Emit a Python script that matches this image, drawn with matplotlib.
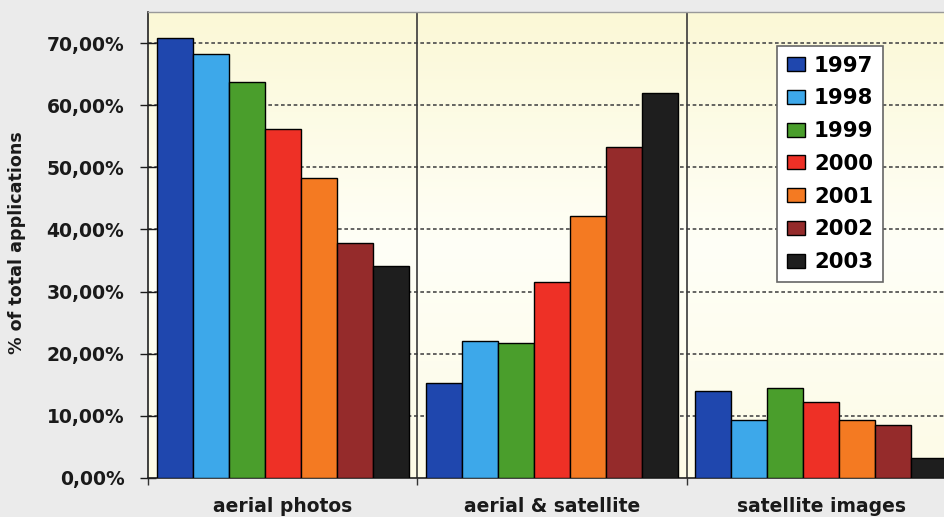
import numpy as np
import matplotlib
matplotlib.use("Agg")
import matplotlib.pyplot as plt
from matplotlib.colors import LinearSegmentedColormap

# share of applications per data source, one list per year
categories = ["aerial photos", "aerial & satellite", "satellite images"]
years = ["1997", "1998", "1999", "2000", "2001", "2002", "2003"]
aerial_photos = [70.8, 68.2, 63.8, 56.1, 48.3, 37.9, 34.2]
aerial_satellite = [15.3, 22.1, 21.7, 31.5, 42.2, 53.3, 62.0]
satellite_images = [14.0, 9.4, 14.5, 12.3, 9.3, 8.6, 3.2]
yticks = [0, 10, 20, 30, 40, 50, 60, 70]

colors = ["#1f47ae", "#3da8ea", "#4a9e2c", "#ee3026", "#f47a22", "#952b2b", "#1e1e1e"]

values = np.array([aerial_photos, aerial_satellite, satellite_images])  # shape (3, 7)

fig = plt.figure(figsize=(9.45, 5.17), dpi=100)
fig.patch.set_facecolor("#ebebeb")
ax = fig.add_axes([148 / 945, 39 / 517, 808 / 945, 466 / 517])

# pale cream backdrop with a faint vertical shading
bg = LinearSegmentedColormap.from_list("bg", ["#fdfbe6", "#fffff7", "#fbf8d6"])
ax.imshow(np.linspace(0, 1, 256).reshape(-1, 1), cmap=bg, aspect="auto",
          extent=[0, 1, 0, 1], transform=ax.transAxes, origin="lower", zorder=0)

ax.set_xlim(-0.5, 2.5)
ax.set_ylim(0, 75)

x = np.arange(len(categories))
w = 0.1337
for i, year in enumerate(years):
    ax.bar(x + (i - 3) * w, values[:, i], width=w, color=colors[i],
           edgecolor="black", linewidth=1.0, label=year, zorder=3)

# dashed horizontal grid and solid group separators
for v in yticks[1:]:
    ax.axhline(v, color="#4a4a4a", linewidth=1.2, linestyle=(0, (2.2, 1.6)), zorder=1)
for b in [0.5, 1.5]:
    ax.axvline(b, color="#3a3a3a", linewidth=1.2, zorder=1)

ax.set_yticks(yticks)
ax.set_yticklabels([f"{v:.2f}%".replace(".", ",") for v in yticks])
ax.tick_params(axis="y", direction="inout", length=12, width=1, pad=11,
               labelsize=13.5, colors="#1a1a1a")
for lab in ax.get_yticklabels():
    lab.set_fontweight("bold")

ax.set_xticks([-0.5, 0.5, 1.5, 2.5])
ax.set_xticklabels([])
ax.tick_params(axis="x", which="major", direction="out", length=5, width=1, color="#333333")
ax.set_xticks(x, minor=True)
ax.set_xticklabels(categories, minor=True, fontsize=13.5, fontweight="bold", color="#1a1a1a")
ax.tick_params(axis="x", which="minor", length=0, pad=14)

for side in ["left", "bottom"]:
    ax.spines[side].set_color("#222222")
    ax.spines[side].set_linewidth(1.2)
ax.spines["top"].set_color("#999999")
ax.spines["top"].set_linewidth(1.0)
ax.spines["right"].set_visible(False)

fig.text(17 / 945, 1 - 243 / 517, "% of total applications", rotation=90,
         ha="center", va="center", fontsize=12.6, fontweight="bold", color="#1a1a1a")

leg = ax.legend(loc="upper left", bbox_to_anchor=(777 / 945, 1 - 46 / 517),
                bbox_transform=fig.transFigure, borderaxespad=0, fancybox=False,
                edgecolor="#666666", facecolor="white", framealpha=1,
                prop={"size": 15.3, "weight": "bold"}, handlelength=0.87,
                handleheight=0.65, handletextpad=0.42, labelspacing=0.6,
                borderpad=0.45)
leg.get_frame().set_linewidth(1.2)

fig.savefig("out.png", dpi=100, facecolor=fig.get_facecolor())
